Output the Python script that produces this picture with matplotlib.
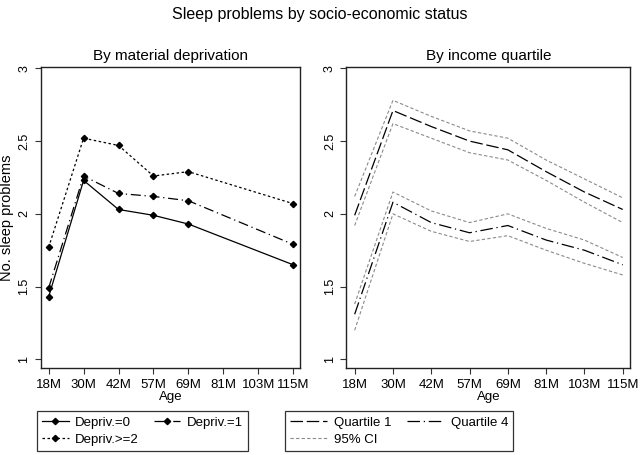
"""Sleep problems by socio-economic status: deprivation and income quartile panels."""

import matplotlib
matplotlib.use('Agg')
import matplotlib.pyplot as plt

plt.rcParams['font.family'] = ['Liberation Sans', 'DejaVu Sans']

ages = ['18M', '30M', '42M', '57M', '69M', '81M', '103M', '115M']

# deprivation panel: measured at 18M, 30M, 42M, 57M, 69M, 115M
depriv_ages = ['18M', '30M', '42M', '57M', '69M', '115M']
depriv0 = [1.43, 2.23, 2.03, 1.99, 1.93, 1.65]
depriv1 = [1.49, 2.26, 2.14, 2.12, 2.09, 1.79]
depriv2 = [1.77, 2.52, 2.47, 2.26, 2.29, 2.07]

# income quartile panel, with 95% CI bounds
q1 = [1.99, 2.71, 2.60, 2.50, 2.44, 2.29, 2.15, 2.03]
q1_hi = [2.12, 2.78, 2.67, 2.57, 2.52, 2.37, 2.24, 2.11]
q1_lo = [1.92, 2.62, 2.52, 2.42, 2.37, 2.23, 2.08, 1.94]
q4 = [1.31, 2.08, 1.94, 1.87, 1.92, 1.82, 1.75, 1.65]
q4_hi = [1.38, 2.15, 2.02, 1.94, 2.00, 1.90, 1.82, 1.70]
q4_lo = [1.20, 2.00, 1.88, 1.81, 1.85, 1.75, 1.66, 1.58]

yticks = [1, 1.5, 2, 2.5, 3]
ytick_labels = ['1', '1.5', '2', '2.5', '3']


def _style(ax, title):
    ax.set_xlim(-0.22, 7.2)
    ax.set_ylim(0.94, 3.01)
    ax.set_xticks(range(len(ages)))
    ax.set_xticklabels(ages, fontsize=9.5)
    ax.set_yticks(yticks)
    ax.set_yticklabels(ytick_labels, fontsize=9, rotation=90, va='center')
    ax.tick_params(direction='out', length=4, width=0.8, color='#333333')
    ax.set_xlabel('Age', fontsize=9.5, labelpad=0)
    ax.set_title(title, fontsize=11, pad=5)
    for s in ax.spines.values():
        s.set_linewidth(1.0)
        s.set_color('#222222')


fig = plt.figure(figsize=(6.4, 4.55), dpi=100)
ax1 = fig.add_axes([0.064, 0.191, 0.405, 0.662])
ax2 = fig.add_axes([0.541, 0.191, 0.444, 0.662])

xd = [ages.index(a) for a in depriv_ages]
mk = dict(marker='D', markersize=3.2, color='black', lw=0.9)
h0, = ax1.plot(xd, depriv0, linestyle='-', label='Depriv.=0', **mk)
h1, = ax1.plot(xd, depriv1, linestyle=(0, (8, 3, 1, 3)), label='Depriv.=1', **mk)
h2, = ax1.plot(xd, depriv2, linestyle=(0, (2, 2)), label='Depriv.>=2', **mk)
_style(ax1, 'By material deprivation')
ax1.set_ylabel('No. sleep problems', fontsize=10.5, labelpad=3)

xq = range(len(ages))
ci_kw = dict(color='#8a8a8a', lw=0.8, linestyle=(0, (3, 2)))
hq1, = ax2.plot(xq, q1, color='black', lw=0.9, linestyle=(0, (10, 3)), label='Quartile 1')
hq4, = ax2.plot(xq, q4, color='black', lw=0.9, linestyle=(0, (10, 3, 1, 3)), label='Quartile 4')
hci, = ax2.plot(xq, q1_hi, label='95% CI', **ci_kw)
ax2.plot(xq, q1_lo, **ci_kw)
ax2.plot(xq, q4_hi, **ci_kw)
ax2.plot(xq, q4_lo, **ci_kw)
_style(ax2, 'By income quartile')

fig.suptitle('Sleep problems by socio-economic status', fontsize=11.5, y=0.985)

leg_kw = dict(loc='upper left', ncol=2, fontsize=9.5, frameon=True, numpoints=1,
              fancybox=False, edgecolor='black', handletextpad=0.5,
              borderpad=0.4, labelspacing=0.4, borderaxespad=0)
leg1 = fig.legend([h0, h2, h1], ['Depriv.=0', 'Depriv.>=2', 'Depriv.=1'],
                  bbox_to_anchor=(37 / 640, 44 / 455), handlelength=2.0,
                  columnspacing=1.1, **leg_kw)
leg2 = fig.legend([hq1, hci, hq4], ['Quartile 1', '95% CI', 'Quartile 4'],
                  bbox_to_anchor=(285 / 640, 44 / 455), handlelength=2.8,
                  columnspacing=1.2, **leg_kw)
for leg in (leg1, leg2):
    leg.get_frame().set_linewidth(0.9)

fig.savefig('out.png', dpi=100)
